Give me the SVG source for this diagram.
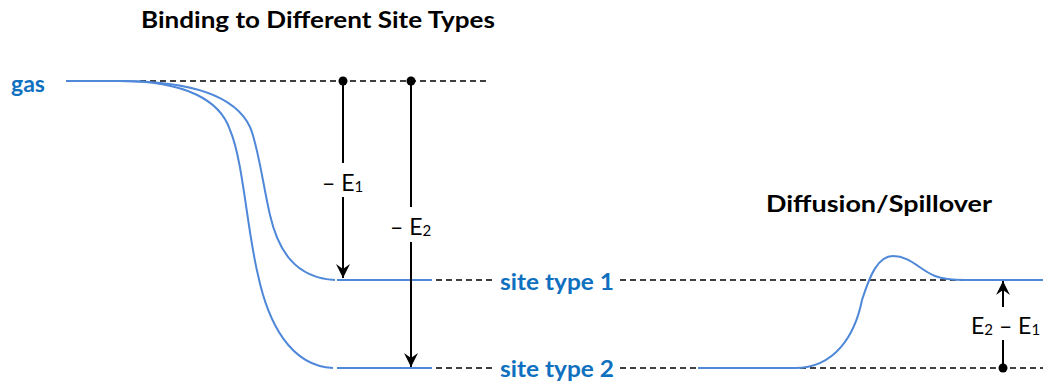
<svg xmlns="http://www.w3.org/2000/svg" width="1043" height="383" viewBox="0 0 1043 383">
<defs>
<style>
.bg{fill:#ffffff}
.curve{fill:none;stroke:#4F88D8;stroke-width:2}
.dash{fill:none;stroke:#000;stroke-width:1.4;stroke-dasharray:6 4}
.arr{fill:none;stroke:#000;stroke-width:2}
.dot{fill:#000}
.title{font-family:Lato,"Liberation Sans",sans-serif;font-weight:bold;font-size:23px;fill:#000}
.lbl{font-family:Lato,"Liberation Sans",sans-serif;font-weight:bold;font-size:23px;fill:#0F70C0}
.en{font-family:Lato,"Liberation Sans",sans-serif;font-size:23px;fill:#000}
.sub{font-size:15px;baseline-shift:-1px}
</style>
<marker id="ah" viewBox="-15 -8 16 16" refX="0" refY="0" markerWidth="16" markerHeight="16" markerUnits="userSpaceOnUse" orient="auto">
<path d="M0,0 L-14,-7 L-9,0 L-14,7 Z" fill="#000"/>
</marker>
</defs>
<rect class="bg" x="0" y="0" width="1043" height="383"/>

<g id="titles">
<text class="title" x="141" y="28" textLength="354" lengthAdjust="spacingAndGlyphs">Binding to Different Site Types</text>
<text class="title" x="766" y="212" textLength="226" lengthAdjust="spacingAndGlyphs">Diffusion/Spillover</text>
</g>

<g id="gas">
<text class="lbl" x="11" y="92" textLength="34" lengthAdjust="spacingAndGlyphs">gas</text>
<line class="curve" x1="66" y1="81" x2="122" y2="81"/>
<line class="dash" x1="140" y1="81" x2="487" y2="81"/>
</g>

<g id="site1">
<line class="curve" x1="337" y1="280" x2="432" y2="280"/>
<line class="dash" x1="436" y1="280" x2="492" y2="280"/>
<text class="lbl" x="500" y="290" textLength="114" lengthAdjust="spacingAndGlyphs">site type 1</text>
<line class="dash" x1="620" y1="280" x2="975" y2="280"/>
</g>

<g id="site2">
<line class="curve" x1="337" y1="368" x2="432" y2="368"/>
<line class="dash" x1="436" y1="368" x2="492" y2="368"/>
<text class="lbl" x="500" y="377" textLength="114" lengthAdjust="spacingAndGlyphs">site type 2</text>
<line class="dash" x1="620" y1="368" x2="1043" y2="368"/>
</g>

<g id="curves">
<path class="curve" d="M120,81 C190,81 235,95 250,127 C258,145 263,185 270,215 C278,250 295,278 335,280"/>
<path class="curve" d="M120,81 C185,81 220,100 230,130 C243,160 247,230 258,275 C268,322 290,366 333,368"/>
<path class="curve" d="M698,368 L795,368 C835,368 855,335 862,300 C870,275 878,256 893,256 C910,256 920,270 935,276 C945,280 955,280 965,280 L1043,280"/>
</g>

<g id="connectors">
<circle class="dot" cx="343" cy="81" r="4.5"/>
<line class="arr" x1="343" y1="81" x2="343" y2="163"/>
<line class="arr" x1="343" y1="197" x2="343" y2="278" marker-end="url(#ah)"/>
<circle class="dot" cx="411" cy="81" r="4.5"/>
<line class="arr" x1="411" y1="81" x2="411" y2="207"/>
<line class="arr" x1="411" y1="242" x2="411" y2="367" marker-end="url(#ah)"/>
<circle class="dot" cx="1003" cy="368" r="4.5"/>
<line class="arr" x1="1003" y1="368" x2="1003" y2="340"/>
<line class="arr" x1="1003" y1="307" x2="1003" y2="281" marker-end="url(#ah)"/>
</g>

<g id="energy-labels">
<text class="en" x="322" y="191">– E<tspan class="sub">1</tspan></text>
<text class="en" x="390" y="235">– E<tspan class="sub">2</tspan></text>
<text class="en" x="971" y="334">E<tspan class="sub">2</tspan> – E<tspan class="sub">1</tspan></text>
</g>
</svg>
